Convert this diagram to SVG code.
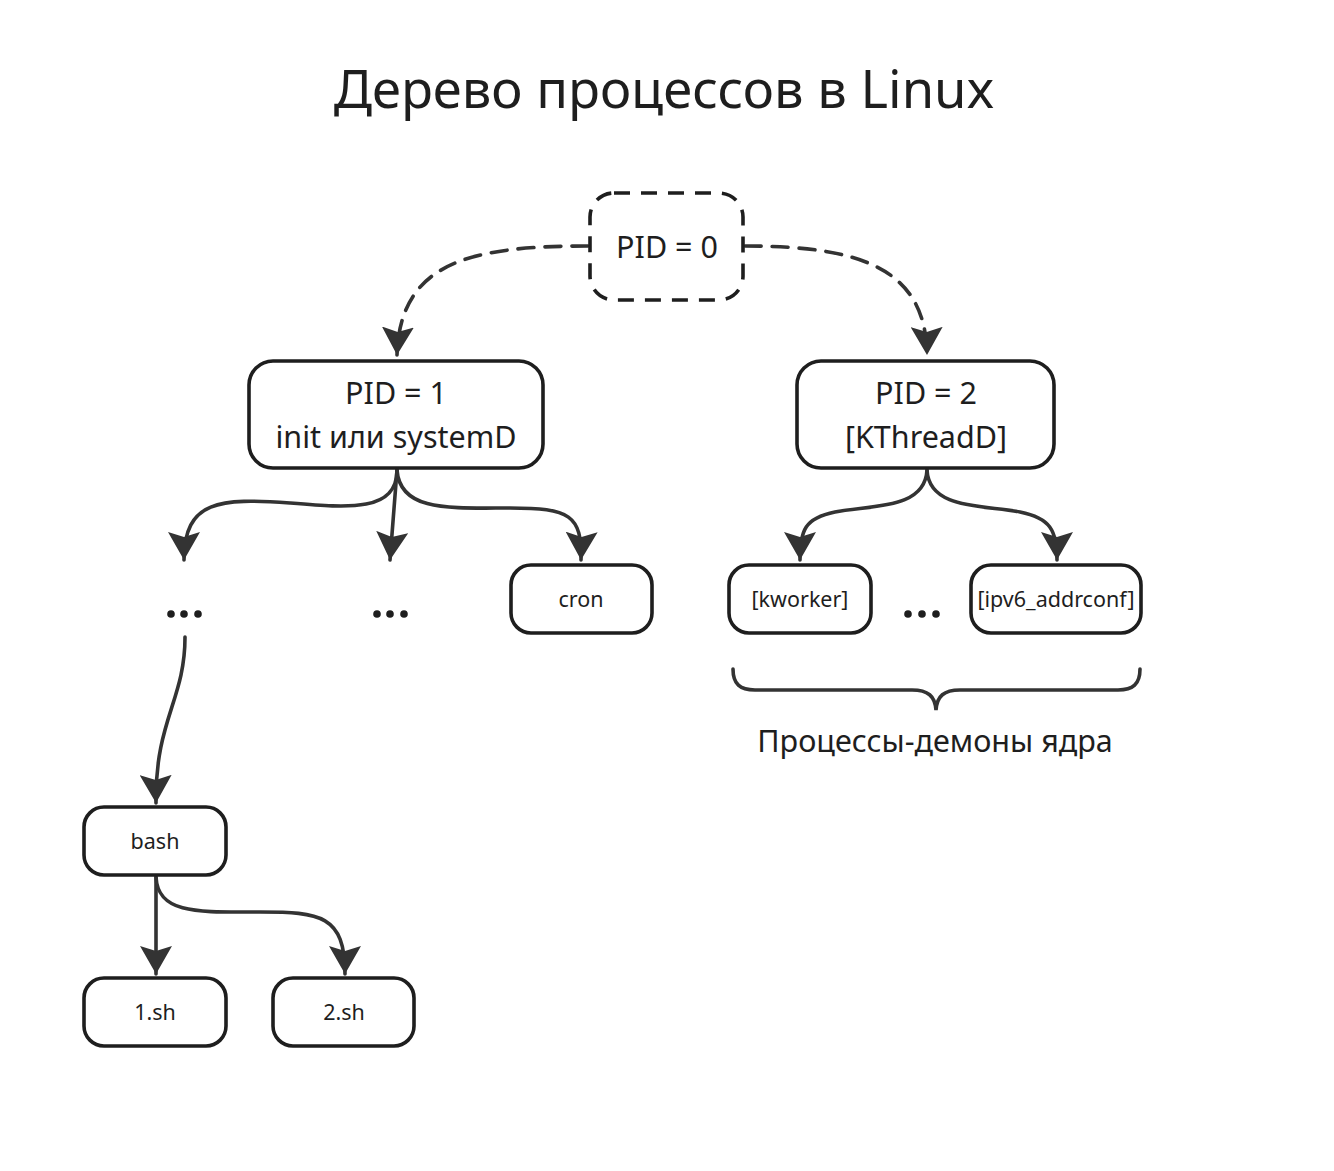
<svg xmlns="http://www.w3.org/2000/svg" width="1334" height="1171" viewBox="0 0 1334 1171">
<style>
.bg{fill:#ffffff}
.box{fill:#ffffff;stroke:#1e1e1e;stroke-width:3.6}
.dash{stroke-dasharray:16 11}
.t{font-family:"Noto Sans","Open Sans","DejaVu Sans",sans-serif;fill:#1e1e1e;text-anchor:middle}
.big{font-size:30.5px}
.sm{font-size:21.5px}
.conn{fill:none;stroke:#333333;stroke-width:3.6;stroke-linecap:round}
.dot{fill:#1e1e1e}
</style>
<defs>
<marker id="arr" viewBox="0 0 32 32" refX="28" refY="16" markerWidth="32" markerHeight="32" markerUnits="userSpaceOnUse" orient="auto">
<path d="M28 16 L0 0 L5 16 L0 32 Z" fill="#333333"/>
</marker>
</defs>
<rect class="bg" x="0" y="0" width="1334" height="1171"/>
<text class="t" x="664" y="108" font-size="52.5">Дерево процессов в Linux</text>

<g id="connectors">
<path class="conn dash" d="M588 246 C470 246 400 262 397 355" marker-end="url(#arr)"/>
<path class="conn dash" d="M745 246 C860 246 926 268 927 355" marker-end="url(#arr)"/>
<path class="conn" d="M397 470 C397 512 350 508 290 503 C220 498 184 500 184 560" marker-end="url(#arr)"/>
<path class="conn" d="M397 470 L390 560" marker-end="url(#arr)"/>
<path class="conn" d="M397 470 C400 512 450 508 510 508 C570 508 582 515 581 560" marker-end="url(#arr)"/>
<path class="conn" d="M927 470 C925 510 870 505 835 512 C805 518 800 530 800 560" marker-end="url(#arr)"/>
<path class="conn" d="M927 470 C929 510 985 505 1020 512 C1050 518 1057 530 1057 560" marker-end="url(#arr)"/>
<path class="conn" d="M185 637 C185 700 155 720 156 803" marker-end="url(#arr)"/>
<path class="conn" d="M156 877 L156 974" marker-end="url(#arr)"/>
<path class="conn" d="M156 877 C158 915 200 912 260 912 C320 912 345 915 345 974" marker-end="url(#arr)"/>
</g>

<g id="pid0">
<rect class="box dash" x="590" y="193" width="153" height="107" rx="24"/>
<text class="t big" x="667" y="258">PID = 0</text>
</g>
<g id="pid1">
<rect class="box" x="249" y="361" width="294" height="107" rx="24"/>
<text class="t big" x="396" y="404">PID = 1</text>
<text class="t big" x="396" y="448">init или systemD</text>
</g>
<g id="pid2">
<rect class="box" x="797" y="361" width="257" height="107" rx="24"/>
<text class="t big" x="926" y="404">PID = 2</text>
<text class="t big" x="926" y="448">[KThreadD]</text>
</g>
<g id="dots1">
<circle class="dot" cx="171" cy="614" r="3.8"/><circle class="dot" cx="184" cy="614" r="3.8"/><circle class="dot" cx="198" cy="614" r="3.8"/>
</g>
<g id="dots2">
<circle class="dot" cx="377" cy="614" r="3.8"/><circle class="dot" cx="390" cy="614" r="3.8"/><circle class="dot" cx="404" cy="614" r="3.8"/>
</g>
<g id="cron">
<rect class="box" x="511" y="565" width="141" height="68" rx="20"/>
<text class="t sm" x="581" y="607">cron</text>
</g>
<g id="kworker">
<rect class="box" x="729" y="565" width="142" height="68" rx="20"/>
<text class="t sm" x="800" y="607">[kworker]</text>
</g>
<g id="dots3">
<circle class="dot" cx="908" cy="614" r="3.8"/><circle class="dot" cx="922" cy="614" r="3.8"/><circle class="dot" cx="936" cy="614" r="3.8"/>
</g>
<g id="ipv6">
<rect class="box" x="971" y="565" width="170" height="68" rx="20"/>
<text class="t sm" x="1056" y="607">[ipv6_addrconf]</text>
</g>
<g id="brace">
<path class="conn" stroke="#1e1e1e" d="M733 669 C733 684 740 690 755 690 L912 690 C928 690 935 696 936 710 C937 696 944 690 960 690 L1118 690 C1133 690 1140 684 1140 669"/>
<text class="t big" x="935" y="752">Процессы-демоны ядра</text>
</g>
<g id="bash">
<rect class="box" x="84" y="807" width="142" height="68" rx="20"/>
<text class="t sm" x="155" y="849">bash</text>
</g>
<g id="sh1">
<rect class="box" x="84" y="978" width="142" height="68" rx="20"/>
<text class="t sm" x="155" y="1020">1.sh</text>
</g>
<g id="sh2">
<rect class="box" x="273" y="978" width="141" height="68" rx="20"/>
<text class="t sm" x="344" y="1020">2.sh</text>
</g>
</svg>
